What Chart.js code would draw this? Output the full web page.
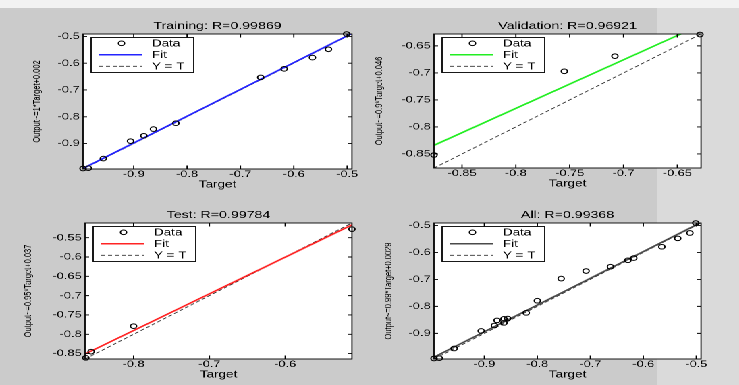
<!DOCTYPE html>
<html>
<head>
<meta charset="utf-8">
<script src="https://cdn.jsdelivr.net/npm/chart.js@4.4.0/dist/chart.umd.min.js"></script>
<style>
  html, body { margin:0; padding:0; width:739px; height:385px; overflow:hidden; background:#cbcbcb; }
  #topband { position:absolute; left:0; top:0; width:739px; height:8px; background:#f2f2f2; }
  #rightband { position:absolute; left:657px; top:8px; width:82px; height:377px; background:#dadada; }
  /* the scanned figure is stretched sideways, so draw narrow and widen */
  #fig { position:absolute; left:0; top:0; width:548px; height:385px; transform:scaleX(1.35); transform-origin:0 0; }
  #fig canvas { position:absolute; }
</style>
</head>
<body>
<div id="topband"></div>
<div id="rightband"></div>
<div id="fig">
  <canvas id="c-train"></canvas>
  <canvas id="c-val"></canvas>
  <canvas id="c-test"></canvas>
  <canvas id="c-all"></canvas>
</div>
<script>
// ── data ──
const trainTarget = [-0.995, -0.985, -0.957, -0.906, -0.881, -0.863, -0.821, -0.662, -0.618, -0.565, -0.535, -0.501];
const trainOutput = [-0.993, -0.992, -0.956, -0.891, -0.871, -0.846, -0.824, -0.653, -0.621, -0.579, -0.548, -0.491];
const valTarget   = [-0.876, -0.755, -0.708, -0.629];
const valOutput   = [-0.852, -0.697, -0.669, -0.629];
const testTarget  = [-0.863, -0.856, -0.800, -0.512];
const testOutput  = [-0.861, -0.845, -0.779, -0.528];
const allTarget   = [...trainTarget, ...valTarget, ...testTarget];
const allOutput   = [...trainOutput, ...valOutput, ...testOutput];

// fit line end points
const trainFitX = [-0.995, -0.491], trainFitY = [-0.993, -0.489];
const valFitX   = [-0.876, -0.628], valFitY   = [-0.834, -0.611];
const testFitX  = [-0.864, -0.512], testFitY  = [-0.851, -0.517];
const allFitX   = [-0.995, -0.491], allFitY   = [-0.988, -0.489];

// axis limits (also the Y = T line)
const trainLim = [-0.995, -0.491];
const valLim   = [-0.876, -0.628];
const testLim  = [-0.864, -0.512];
const allLim   = [-0.995, -0.491];

// tick labels
const trainTicks = [-0.9, -0.8, -0.7, -0.6, -0.5];
const valTicks   = [-0.85, -0.8, -0.75, -0.7, -0.65];
const testXTicks = [-0.8, -0.7, -0.6];
const testYTicks = [-0.85, -0.8, -0.75, -0.7, -0.65, -0.6, -0.55];
const allTicks   = [-0.9, -0.8, -0.7, -0.6, -0.5];

const FONT = "'Liberation Sans', Arial, sans-serif";
Chart.defaults.color = '#000';

const panels = [
  { id:'c-train', title:'Training: R=0.99869', ylabel:'Output~=1*Target+0.002',
    tx:trainTarget, ty:trainOutput, fx:trainFitX, fy:trainFitY, lim:trainLim, xt:trainTicks, yt:trainTicks,
    color:'#2424ff', area:{ l:61.5, r:260.7, t:34, b:169 }, ylabX:27.4 },
  { id:'c-val', title:'Validation: R=0.96921', ylabel:'Output~=0.9*Target+0.046',
    tx:valTarget, ty:valOutput, fx:valFitX, fy:valFitY, lim:valLim, xt:valTicks, yt:valTicks,
    color:'#22ee22', area:{ l:321.5, r:519.3, t:34, b:168 }, ylabX:280.7 },
  { id:'c-test', title:'Test: R=0.99784', ylabel:'Output~=0.95*Target+0.037',
    tx:testTarget, ty:testOutput, fx:testFitX, fy:testFitY, lim:testLim, xt:testXTicks, yt:testYTicks,
    color:'#ff2424', area:{ l:63, r:260.7, t:223, b:359 }, ylabX:21 },
  { id:'c-all', title:'All: R=0.99368', ylabel:'Output~=0.99*Target+0.0029',
    tx:allTarget, ty:allOutput, fx:allFitX, fy:allFitY, lim:allLim, xt:allTicks, yt:allTicks,
    color:'#4a4a4a', area:{ l:321.5, r:519.3, t:223, b:359 }, ylabX:287.9 },
];

function pts(xs, ys) { return xs.map((x, i) => ({ x, y: ys[i] })); }
function fmt(v) { return String(Math.round(v * 100) / 100); }

// white axes box, inward ticks on all sides, and the boxed legend (MATLAB look)
const boxPlugin = {
  id: 'matlabBox',
  beforeDraw(chart) {
    const a = chart.chartArea, c = chart.ctx;
    c.save();
    c.fillStyle = '#fff';
    c.fillRect(a.left, a.top, a.right - a.left, a.bottom - a.top);
    c.restore();
  },
  afterDraw(chart) {
    const a = chart.chartArea, c = chart.ctx;
    const xs = chart.scales.x, ys = chart.scales.y;
    c.save();
    c.strokeStyle = '#000';
    c.lineWidth = 0.9;
    c.strokeRect(a.left, a.top, a.right - a.left, a.bottom - a.top);
    c.beginPath();
    xs.ticks.forEach(t => {
      const p = xs.getPixelForValue(t.value);
      c.moveTo(p, a.bottom); c.lineTo(p, a.bottom - 3.5);
      c.moveTo(p, a.top);    c.lineTo(p, a.top + 3.5);
    });
    ys.ticks.forEach(t => {
      const p = ys.getPixelForValue(t.value);
      c.moveTo(a.left, p);  c.lineTo(a.left + 3, p);
      c.moveTo(a.right, p); c.lineTo(a.right - 3, p);
    });
    c.stroke();

    // legend
    const bx = a.left + 6, by = a.top + 3.5, bw = 76, bh = 35;
    c.fillStyle = '#fff';
    c.fillRect(bx, by, bw, bh);
    c.strokeRect(bx, by, bw, bh);
    const rows = [5.8, 17.3, 28.8];
    c.font = '10px ' + FONT;
    c.textBaseline = 'middle';
    c.textAlign = 'left';
    chart.data.datasets.forEach((ds, i) => {
      const y = by + rows[i];
      c.save();
      c.strokeStyle = ds.borderColor;
      c.lineWidth = ds.borderWidth;
      if (ds.borderDash) c.setLineDash(ds.borderDash);
      c.beginPath();
      if (ds.showLine) {
        c.moveTo(bx + 6, y); c.lineTo(bx + 38, y);
      } else {
        c.arc(bx + 22.5, y, ds.pointRadius, 0, Math.PI * 2);
      }
      c.stroke();
      c.restore();
      c.fillStyle = '#000';
      c.fillText(ds.label, bx + 45, y + 0.5);
    });
    c.restore();
  }
};

panels.forEach(p => {
  const a = p.area;
  const cl = Math.floor(p.ylabX - 4.75);
  const ct = Math.floor(a.t - 22);
  const cr = Math.ceil(a.r + 10);
  const cb = Math.ceil(a.b + 22);
  const W = a.l - cl, H = cb - a.b;

  const cv = document.getElementById(p.id);
  cv.width = cr - cl;
  cv.height = cb - ct;
  cv.style.left = cl + 'px';
  cv.style.top = ct + 'px';

  new Chart(cv, {
    type: 'scatter',
    data: {
      datasets: [
        { label:'Data', data:pts(p.tx, p.ty), pointStyle:'circle', pointRadius:2.3,
          borderColor:'#000', backgroundColor:'rgba(0,0,0,0)', borderWidth:1, clip:false },
        { label:'Fit', data:pts(p.fx, p.fy), showLine:true, pointRadius:0,
          borderColor:p.color, borderWidth:1.5 },
        { label:'Y = T', data:pts(p.lim, p.lim), showLine:true, pointRadius:0,
          borderColor:'#333', borderWidth:0.8, borderDash:[3, 2] },
      ]
    },
    options: {
      responsive:false, animation:false, devicePixelRatio:2,
      layout:{ autoPadding:false, padding:{ left:0, top:0, right:cr - a.r, bottom:0 } },
      plugins:{
        legend:{ display:false }, tooltip:{ enabled:false },
        title:{ display:true, text:p.title, fullSize:false, color:'#000',
          font:{ size:10.5, family:FONT, weight:'normal', lineHeight:1.2 },
          padding:{ top:(a.t - 14.3) - ct, bottom:1.7 } }
      },
      scales: {
        x: {
          type:'linear', min:p.lim[0], max:p.lim[1],
          grid:{ display:false, drawTicks:false }, border:{ display:false },
          afterBuildTicks: s => { s.ticks = p.xt.map(v => ({ value:v })); },
          afterFit: s => { s.height = H; },
          ticks:{ padding:0.75, color:'#000', maxRotation:0, autoSkip:false, callback:fmt,
            font:{ size:9.5, family:FONT, lineHeight:1 } },
          title:{ display:true, text:'Target', color:'#000',
            font:{ size:10, family:FONT, lineHeight:1 }, padding:{ top:0, bottom:H - 20.5 } }
        },
        y: {
          type:'linear', min:p.lim[0], max:p.lim[1],
          grid:{ display:false, drawTicks:false }, border:{ display:false },
          afterBuildTicks: s => { s.ticks = p.yt.map(v => ({ value:v })); },
          afterFit: s => { s.width = W; },
          ticks:{ padding:2.5, color:'#000', autoSkip:false, callback:fmt,
            font:{ size:9.5, family:FONT, lineHeight:1 } },
          title:{ display:true, text:p.ylabel, color:'#000',
            font:{ size:7.5, family:FONT, lineHeight:1 }, padding:{ top:p.ylabX - cl - 3.75, bottom:0 } }
        }
      }
    },
    plugins:[boxPlugin]
  });
});
</script>
</body>
</html>
